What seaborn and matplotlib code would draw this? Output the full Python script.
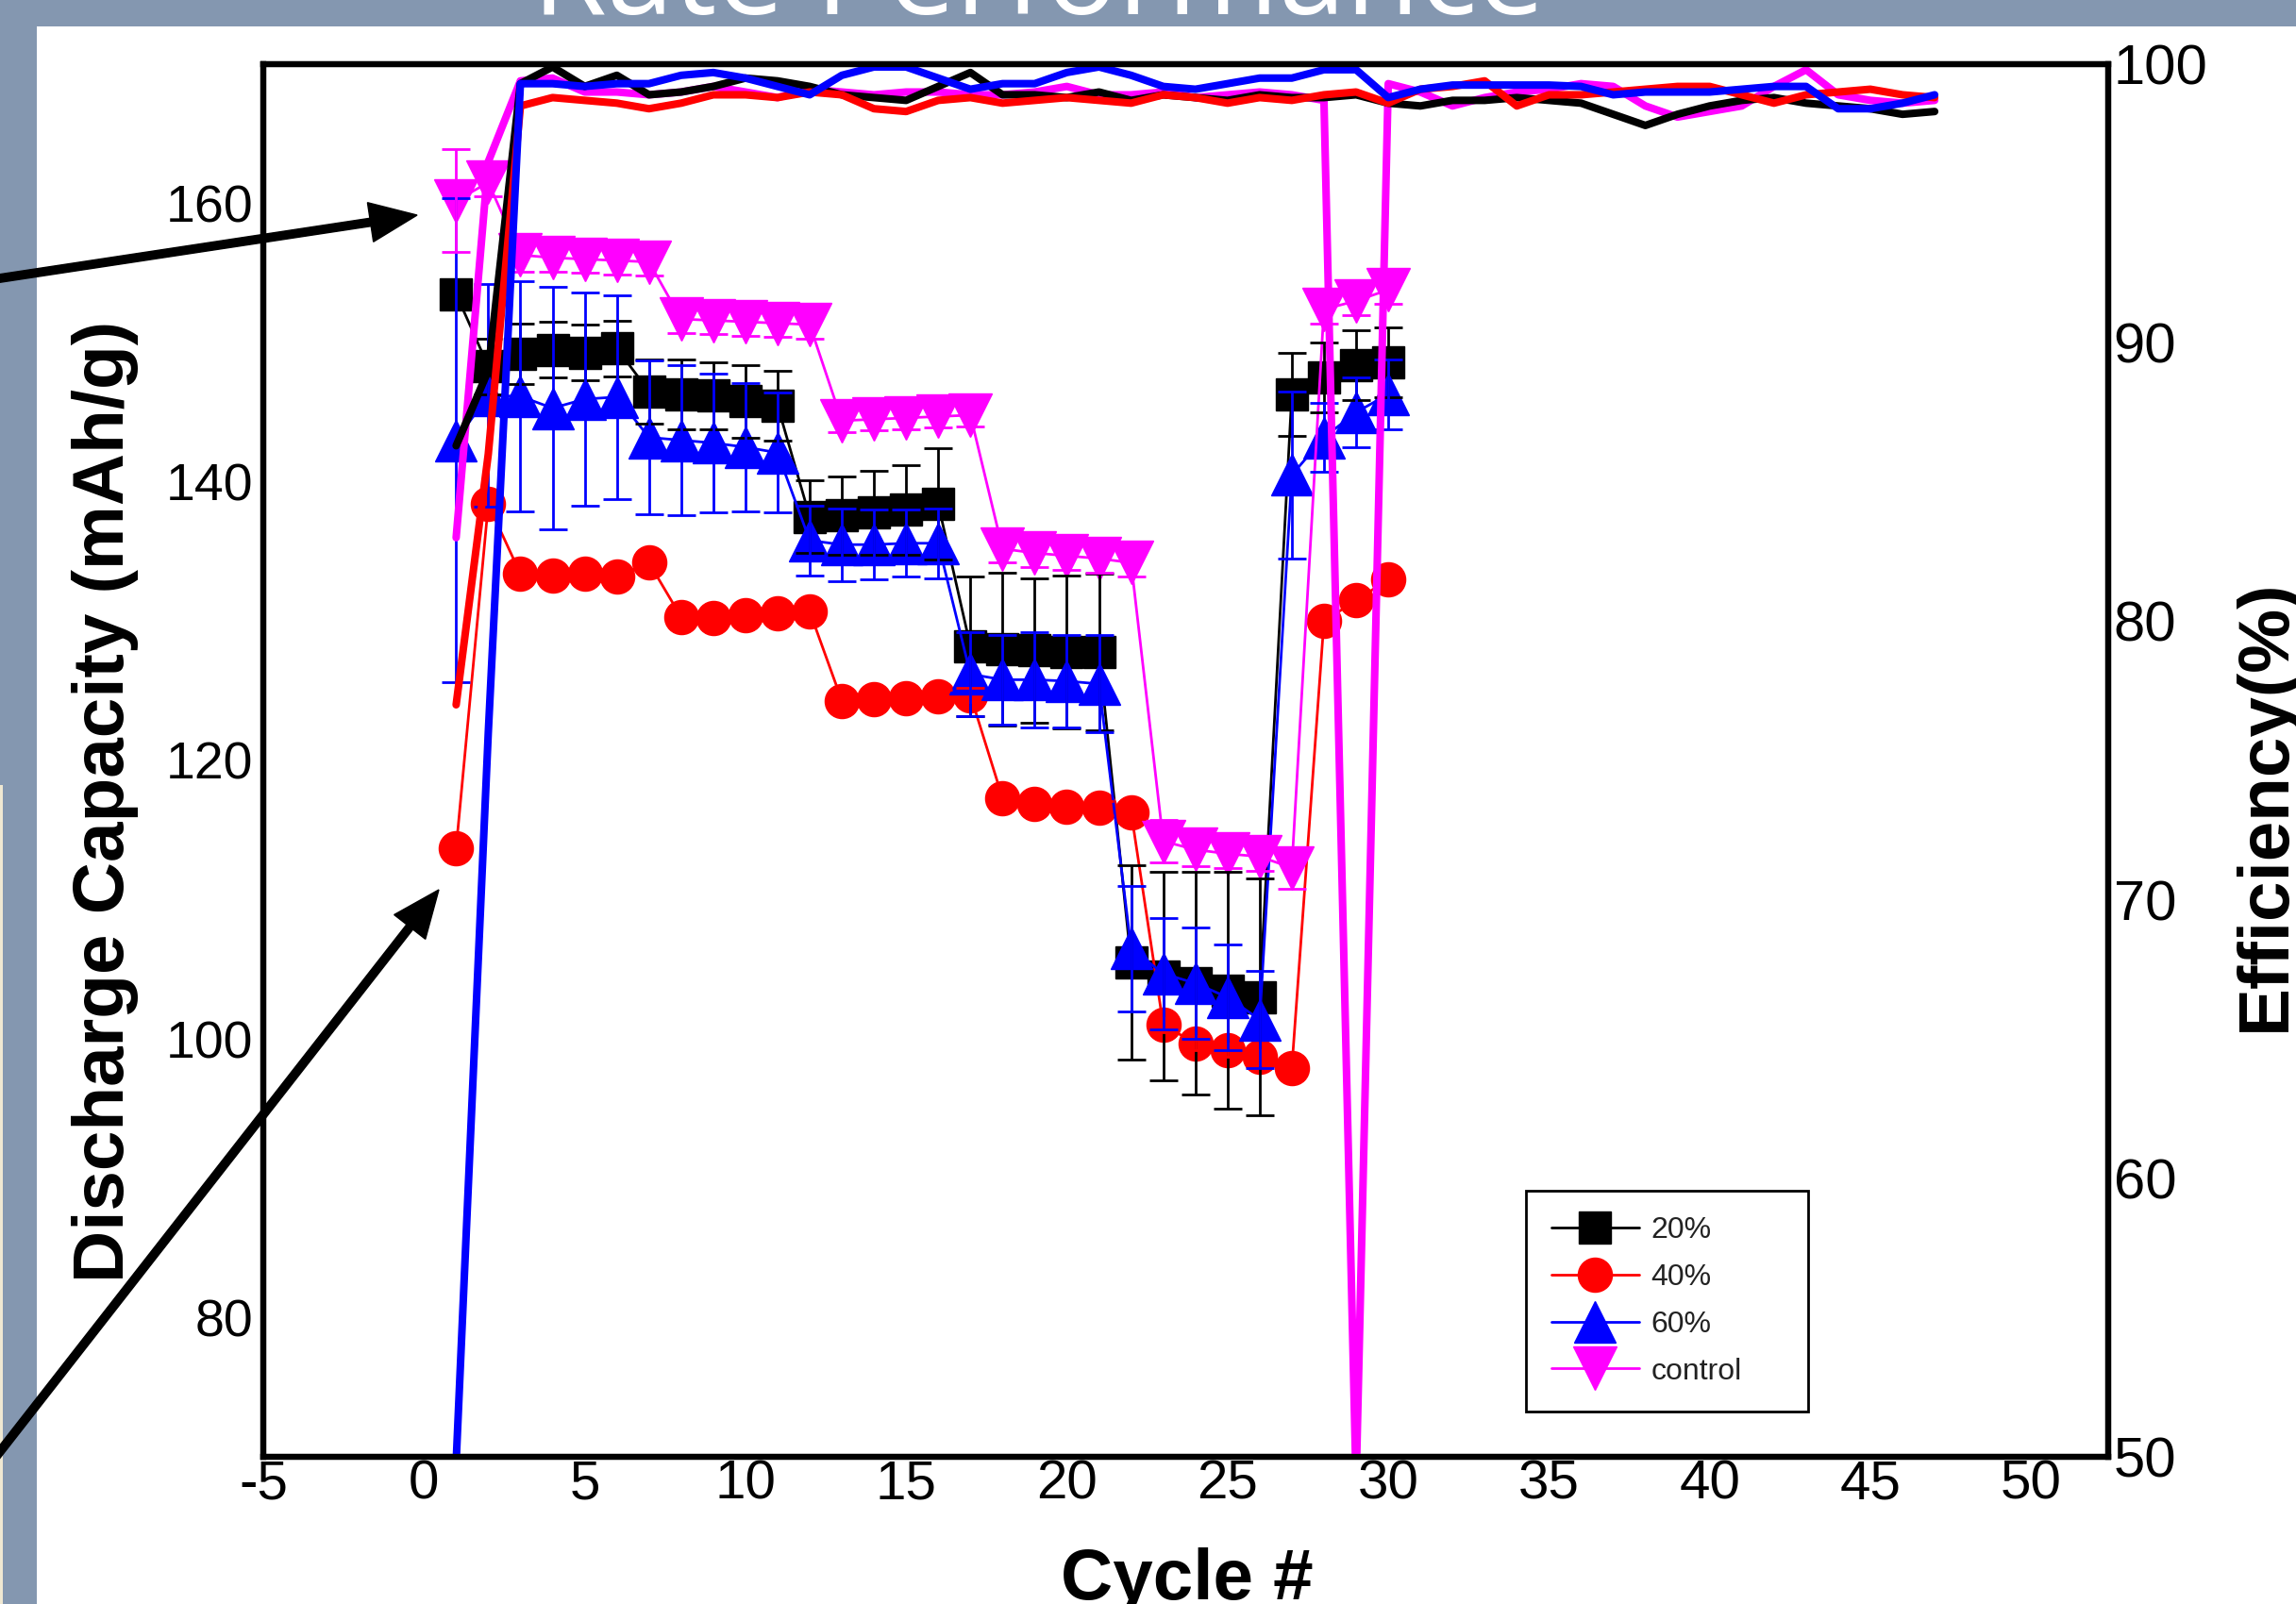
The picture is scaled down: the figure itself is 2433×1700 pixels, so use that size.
import matplotlib
matplotlib.use("Agg")
import matplotlib.pyplot as plt
from matplotlib.patches import Rectangle, FancyArrow
from matplotlib.lines import Line2D
import seaborn as sns

# ---------------- data ----------------
cycles = list(range(1, 31))

cap_20 = [153.5, 148.3, 149.2, 149.5, 149.3, 149.6,
          146.5, 146.3, 146.2, 145.8, 145.5,
          137.5, 137.6, 137.8, 138.0, 138.4,
          128.2, 128.0, 127.9, 127.8, 127.8,
          105.5, 104.5, 104.0, 103.5, 103.0,
          146.3, 147.5, 148.4, 148.6]
err_20 = [1.0, 2.0, 2.2, 2.0, 2.0, 2.0,
          2.3, 2.5, 2.4, 2.6, 2.5,
          2.6, 2.8, 3.0, 3.2, 4.0,
          5.0, 5.5, 5.2, 5.5, 5.6,
          7.0, 7.5, 8.0, 8.5, 8.5,
          3.0, 2.5, 2.5, 2.5]

cap_40 = [113.7, 138.4, 133.4, 133.3, 133.4, 133.2, 134.2,
          130.3, 130.2, 130.4, 130.6, 130.7,
          124.3, 124.4, 124.5, 124.6, 124.7,
          117.3, 116.9, 116.7, 116.6, 116.3,
          101.0, 99.7, 99.2, 98.7, 97.9,
          130.0, 131.5, 133.0]
err_40 = [0.5] * 30

cap_60 = [143.0, 146.2, 146.15, 145.3, 145.95, 146.1,
          143.2, 143.0, 142.8, 142.5, 142.1,
          135.8, 135.5, 135.5, 135.6, 135.6,
          126.2, 125.8, 125.8, 125.7, 125.5,
          106.5, 104.7, 104.0, 103.0, 101.4,
          140.5, 143.2, 145.0, 146.3]
err_60 = [17.4, 8.0, 8.25, 8.7, 7.65, 7.3,
          5.5, 5.4, 5.0, 4.6, 4.3,
          2.5, 2.6, 2.5, 2.4, 2.5,
          3.0, 3.2, 3.4, 3.3, 3.5,
          4.5, 4.0, 4.0, 3.8, 3.5,
          6.0, 2.5, 2.5, 2.5]

cap_ctrl = [160.2, 161.5, 156.3, 156.1, 156.0, 155.9, 155.8,
            151.7, 151.6, 151.5, 151.4, 151.3,
            144.4, 144.5, 144.6, 144.7, 144.8,
            135.2, 134.9, 134.7, 134.5, 134.2,
            114.2, 113.6, 113.3, 113.1, 112.3,
            152.4, 153.0, 153.8]
err_ctrl = [3.7, 1.0, 1.2, 1.0, 1.0, 1.0, 1.0,
            1.0, 1.0, 1.0, 1.0, 1.0,
            0.8, 0.8, 0.8, 0.8, 0.8,
            1.0, 1.0, 1.0, 1.0, 1.0,
            1.5, 1.2, 1.0, 1.0, 1.5,
            1.0, 1.0, 1.0]

eff_cycles = list(range(1, 48))
eff_20 = [86.3, 89.0, 99.3, 99.9, 99.2, 99.6, 98.9, 99.0, 99.2, 99.5,
          99.4, 99.2, 98.9, 98.8, 98.7, 99.2, 99.7, 98.9, 98.9, 98.8,
          99.0, 98.7, 98.9, 98.8, 98.7, 98.9, 98.8, 98.8, 98.9, 98.6,
          98.5, 98.7, 98.7, 98.8, 98.7, 98.6, 98.2, 97.8, 98.2, 98.5,
          98.7, 98.8, 98.6, 98.5, 98.4, 98.2, 98.3]
eff_40 = [77.0, 86.0, 98.5, 98.8, 98.7, 98.6, 98.4, 98.6, 98.9, 98.9,
          98.8, 99.0, 98.9, 98.4, 98.3, 98.7, 98.8, 98.6, 98.7, 98.8,
          98.7, 98.6, 98.9, 98.8, 98.6, 98.8, 98.7, 98.9, 99.0, 98.6,
          99.1, 99.2, 99.4, 98.5, 98.9, 98.9, 99.0, 99.1, 99.2, 99.2,
          98.9, 98.6, 98.9, 99.0, 99.1, 98.9, 98.8]
eff_60 = [49.8, 76.0, 99.3, 99.3, 99.2, 99.3, 99.3, 99.6, 99.7, 99.5,
          99.2, 98.9, 99.6, 99.9, 99.9, 99.5, 99.1, 99.3, 99.3, 99.7,
          99.9, 99.6, 99.2, 99.1, 99.3, 99.5, 99.5, 99.8, 99.8, 98.8,
          99.1, 99.25, 99.25, 99.25, 99.25, 99.2, 98.9, 99.0, 99.0, 99.0,
          99.1, 99.2, 99.2, 98.4, 98.4, 98.6, 98.9]
eff_ctrl = [83.0, 96.5, 99.4, 99.5, 99.0, 99.0, 98.9, 99.0, 99.2, 99.0,
            98.8, 99.1, 99.0, 98.9, 99.0, 99.0, 98.9, 98.9, 99.0, 99.2,
            98.9, 98.9, 99.0, 98.8, 98.9, 99.0, 98.9, 98.7, 49.0, 99.3,
            99.0, 98.5, 98.8, 99.0, 99.1, 99.3, 99.2, 98.5, 98.1, 98.3,
            98.5, 99.2, 99.8, 98.9, 98.7, 98.6, 98.7]

labels = ["20%", "40%", "60%", "control"]
x_ticks = list(range(-5, 51, 5))
y_ticks = [80, 100, 120, 140, 160]
y2_ticks = [50, 60, 70, 80, 90, 100]

# ---------------- style ----------------
sns.set_theme(style="white")
plt.rcParams["font.family"] = ["Liberation Sans", "DejaVu Sans"]
plt.rcParams["axes.unicode_minus"] = False

W, H = 2433, 1700
fig = plt.figure(figsize=(W / 100, H / 100), dpi=100)
fig.patch.set_facecolor("#8497b0")
fig.add_artist(Rectangle((39 / W, 0), 1, (H - 28) / H, transform=fig.transFigure,
                         facecolor="white", edgecolor="none", zorder=-5))
fig.add_artist(Rectangle((0, 0), 3 / W, (H - 832) / H, transform=fig.transFigure,
                         facecolor="#efe8d2", edgecolor="none", zorder=-4))

L, R, T, B = 279, 2234, 68, 1544
ax = fig.add_axes([L / W, (H - B) / H, (R - L) / W, (B - T) / H])
ax.set_facecolor("white")

colors = ["black", "#ff0000", "#0000ff", "#ff00ff"]
markers = ["s", "o", "^", "v"]
msizes = [24, 26, 32, 33]
caps = [cap_20, cap_40, cap_60, cap_ctrl]
errs = [err_20, err_40, err_60, err_ctrl]

for y, c, m, ms in zip(caps, colors, markers, msizes):
    sns.lineplot(x=cycles, y=y, ax=ax, color=c, marker=m, markersize=ms,
                 markeredgecolor=c, markeredgewidth=1, linewidth=2,
                 estimator=None, errorbar=None, legend=False, zorder=2)
for y, e, c in zip(caps, errs, colors):
    ax.errorbar(cycles, y, yerr=e, fmt="none", ecolor=c, elinewidth=2,
                capsize=10.5, capthick=2, zorder=3)

ax2 = ax.twinx()
for y, c in [(eff_ctrl, "#ff00ff"), (eff_20, "black"), (eff_40, "#ff0000"), (eff_60, "#0000ff")]:
    sns.lineplot(x=eff_cycles, y=y, ax=ax2, color=c, linewidth=5.8,
                 estimator=None, errorbar=None, legend=False)

ax.set_xlim(-5, 52.4)
ax.set_ylim(70, 170)
ax2.set_ylim(50, 100)
ax.set_xticks(x_ticks)
ax.set_yticks(y_ticks)
ax2.set_yticks(y2_ticks)
ax.tick_params(axis="x", length=0, pad=2, labelsize=42, labelcolor="black")
ax.tick_params(axis="y", length=0, pad=8, labelsize=40, labelcolor="black")
ax2.tick_params(axis="y", length=0, pad=4, labelsize=43, labelcolor="black")
ax.set_xlabel("")
ax.set_ylabel("")
ax2.set_ylabel("")
ax.grid(False)
ax2.grid(False)
for a in (ax, ax2):
    for sp in a.spines.values():
        sp.set_color("black")
        sp.set_linewidth(4.5)

handles = [Line2D([], [], color=c, marker=m, markersize=ms, lw=2, markeredgecolor=c)
           for c, m, ms in zip(colors, markers, msizes)]
leg = ax.legend(handles, labels, loc="upper left",
                bbox_to_anchor=(0.6844, 0.0411, 0.1529, 0.15), mode="expand",
                borderaxespad=0, fontsize=23, handlelength=2.9, handletextpad=0.4,
                labelspacing=0.62, borderpad=0.85, frameon=True, fancybox=False,
                edgecolor="black", framealpha=1)
leg.get_frame().set_linewidth(2)
for t in leg.get_texts():
    t.set_color("#222222")

# ---------------- texts ----------------
fig.text(1100 / W, (H - 15) / H, "Rate Performance", ha="center", va="baseline",
         color="white", fontsize=92, family=["Open Sans", "DejaVu Sans"])
fig.text(112 / W, (H - 849) / H, "Discharge Capacity (mAh/g)", rotation=90,
         ha="center", va="center", fontsize=55, fontweight="bold", color="black")
fig.text(2401 / W, (H - 853) / H, "Efficiency(%)", rotation=90,
         ha="center", va="center", fontsize=55, fontweight="bold", color="black")
fig.text(1258 / W, 5 / H, "Cycle #", ha="center", va="baseline",
         fontsize=55, fontweight="bold", color="black")

# ---------------- arrows ----------------
for x0, y0, x1, y1 in [(-20, 1402, 442, 1472), (-20, 136, 465, 757)]:
    arr = FancyArrow(x0 / 100, y0 / 100, (x1 - x0) / 100, (y1 - y0) / 100,
                     width=0.085, head_width=0.42, head_length=0.5,
                     length_includes_head=True, transform=fig.dpi_scale_trans,
                     color="black", zorder=10)
    fig.add_artist(arr)

fig.savefig("out.png", dpi=100, facecolor=fig.get_facecolor())
